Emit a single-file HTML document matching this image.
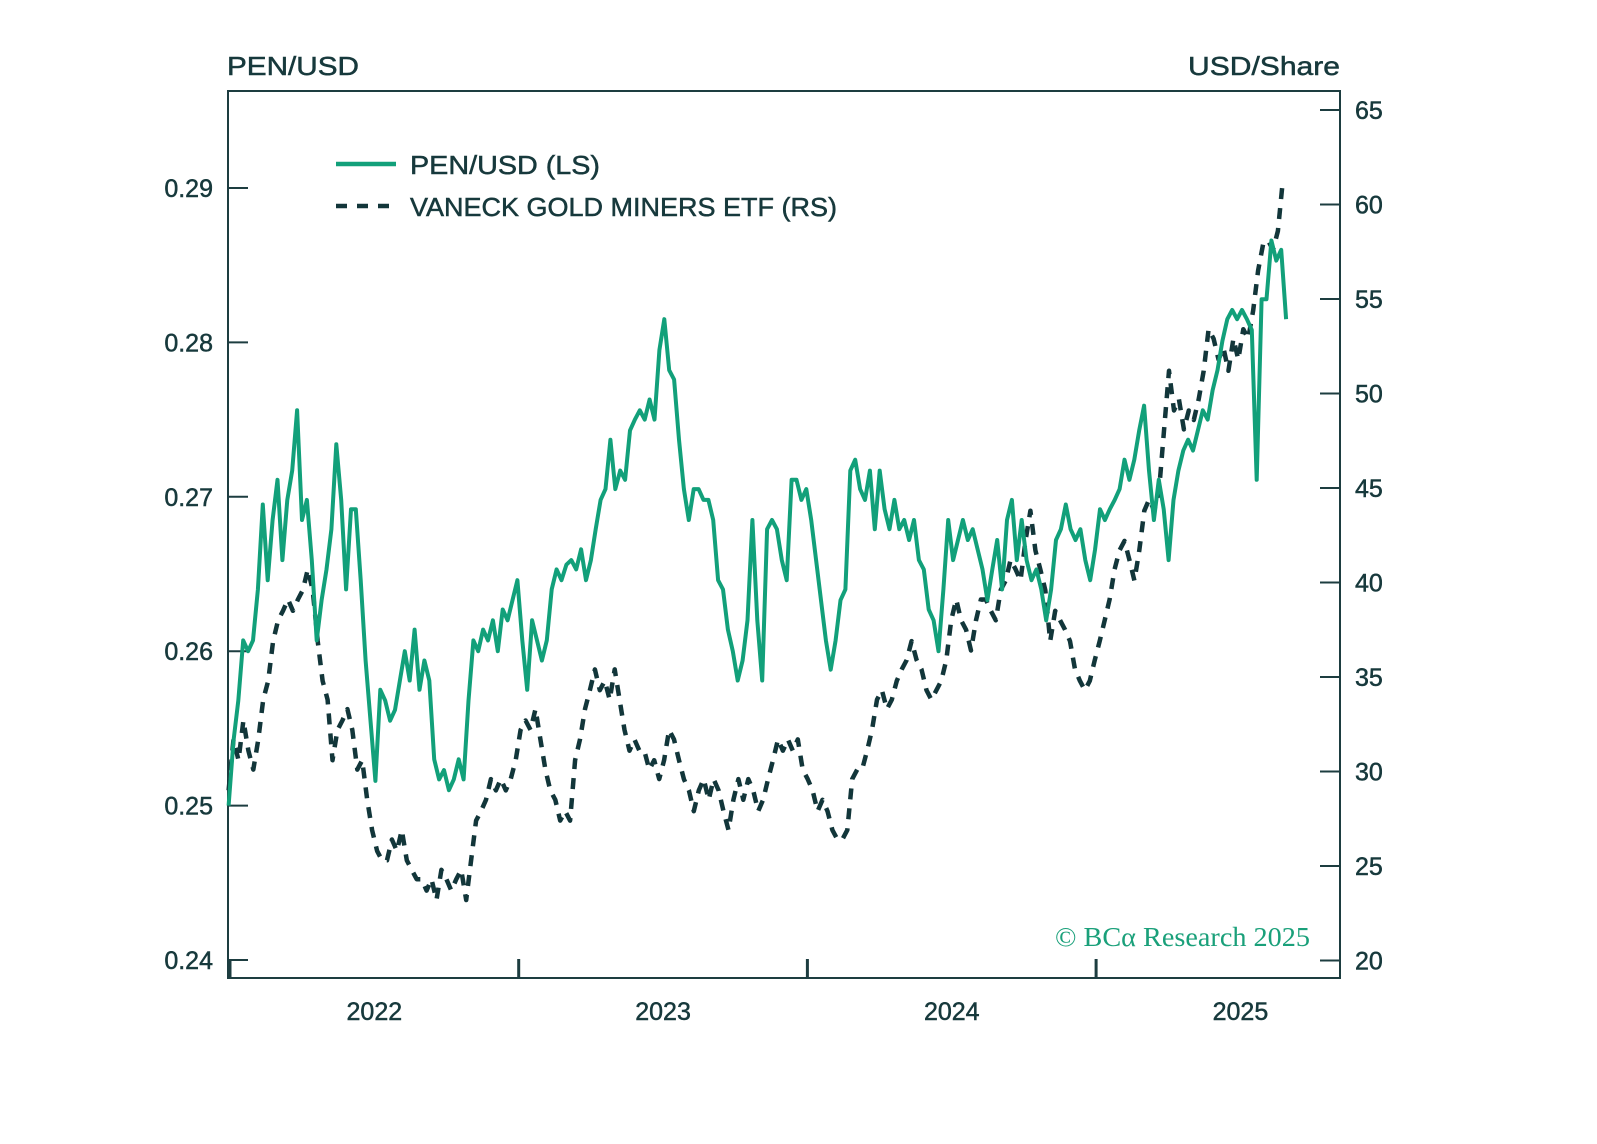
<!DOCTYPE html>
<html><head><meta charset="utf-8"><style>
html,body{margin:0;padding:0;background:#fff;}
svg{display:block;font-family:"Liberation Sans",sans-serif;}
</style></head><body>
<svg id="chart" width="1597" height="1144" viewBox="0 0 1597 1144" xmlns="http://www.w3.org/2000/svg">
<rect x="0" y="0" width="1597" height="1144" fill="#fff"/>
<text x="227" y="75" font-size="26" fill="#17393c" stroke="#17393c" stroke-width="0.5" textLength="132" lengthAdjust="spacingAndGlyphs">PEN/USD</text>
<text x="1340" y="75" font-size="26" fill="#17393c" stroke="#17393c" stroke-width="0.5" text-anchor="end" textLength="152" lengthAdjust="spacingAndGlyphs">USD/Share</text>
<g id="axes"></g>
<g id="series"></g>
<g>
<line x1="336" y1="164" x2="396" y2="164" stroke="#12a07a" stroke-width="4.5"/>
<text x="410" y="174" font-size="26" fill="#17393c" stroke="#17393c" stroke-width="0.5" textLength="190" lengthAdjust="spacingAndGlyphs">PEN/USD (LS)</text>
<line x1="336" y1="206" x2="396" y2="206" stroke="#12363a" stroke-width="4.5" stroke-dasharray="11,10"/>
<text x="410" y="216" font-size="26" fill="#17393c" stroke="#17393c" stroke-width="0.5" textLength="427" lengthAdjust="spacingAndGlyphs">VANECK GOLD MINERS ETF (RS)</text>
</g>
<text x="1055" y="946" font-family="Liberation Serif, serif" font-size="27" fill="#1aa07a" textLength="255" lengthAdjust="spacingAndGlyphs">© BCα Research 2025</text>
</svg>
<script>
const leftTicks=[0.24,0.25,0.26,0.27,0.28,0.29];
const leftTickLabels=["0.24","0.25","0.26","0.27","0.28","0.29"];
const rightTicks=[20,25,30,35,40,45,50,55,60,65];
const yearTicks=[2022,2023,2024,2025];
const yearLabels=["2022","2023","2024","2025"];
const penStart=2021.995, penEnd=2025.658;
const etfStart=2021.995, etfEnd=2025.647;
const penValues=[0.250,0.2542,0.2568,0.2607,0.260,0.2607,0.264,0.2695,0.2646,0.2685,0.2711,0.2659,0.2698,0.2717,0.2756,0.2685,0.2698,0.2659,0.2607,0.2633,0.2653,0.2679,0.2734,0.2698,0.264,0.2692,0.2692,0.2646,0.2594,0.2555,0.2516,0.2575,0.2568,0.2555,0.2562,0.2581,0.26,0.2581,0.2614,0.2575,0.2594,0.2581,0.2530,0.2517,0.2523,0.251,0.2517,0.253,0.2517,0.2568,0.2607,0.26,0.2614,0.2607,0.262,0.26,0.2627,0.262,0.2633,0.2646,0.2607,0.2575,0.262,0.2607,0.2594,0.2607,0.264,0.2653,0.2646,0.2656,0.2659,0.2653,0.2666,0.2646,0.2659,0.2679,0.2698,0.2705,0.2737,0.2705,0.2717,0.2711,0.2743,0.275,0.2756,0.275,0.2763,0.275,0.2795,0.2815,0.2782,0.2776,0.2737,0.2705,0.2685,0.2705,0.2705,0.2698,0.2698,0.2685,0.2646,0.264,0.2614,0.26,0.2581,0.2594,0.262,0.2685,0.262,0.2581,0.2679,0.2685,0.2679,0.2659,0.2646,0.2711,0.2711,0.2698,0.2705,0.2685,0.2659,0.2633,0.2607,0.2588,0.2607,0.2633,0.264,0.2717,0.2724,0.2705,0.2698,0.2717,0.2679,0.2717,0.2692,0.2679,0.2698,0.2679,0.2685,0.2672,0.2685,0.2659,0.2653,0.2627,0.262,0.26,0.264,0.2685,0.2659,0.2672,0.2685,0.2672,0.2679,0.2666,0.2653,0.2633,0.2653,0.2672,0.264,0.2685,0.2698,0.2659,0.2685,0.2659,0.2646,0.2653,0.264,0.262,0.264,0.2672,0.2679,0.2695,0.2679,0.2672,0.2679,0.2659,0.2646,0.2666,0.2692,0.2685,0.2692,0.2698,0.2705,0.2724,0.2711,0.2724,0.2743,0.2759,0.2717,0.2685,0.2711,0.2692,0.2659,0.2698,0.2717,0.273,0.2737,0.273,0.2743,0.2756,0.275,0.2769,0.2782,0.2801,0.2815,0.2821,0.2815,0.2821,0.2815,0.2808,0.2711,0.2828,0.2828,0.2866,0.2853,0.286,0.2815];
const etfValues=[29.0,31.7,30.6,32.7,31.1,30.1,31.7,33.8,34.8,36.9,38.0,38.5,39.1,38.5,39.1,39.6,40.7,39.6,36.9,34.8,33.8,30.6,32.2,32.7,33.3,32.2,30.1,30.6,28.5,26.9,25.8,25.3,25.3,26.4,25.8,26.9,25.3,24.8,24.3,24.3,23.7,24.3,23.2,24.8,24.3,23.7,24.3,24.8,23.2,25.3,27.4,27.9,28.5,29.6,29.0,29.6,29.0,29.6,30.6,32.2,32.7,32.2,33.3,31.7,30.1,29.0,28.5,27.4,27.9,27.4,30.6,31.7,33.3,34.3,35.4,34.3,34.8,33.8,35.4,33.8,32.2,31.1,31.7,31.1,31.1,30.1,30.6,29.6,30.6,32.2,31.7,30.6,29.6,29.0,27.9,29.0,29.6,28.5,29.6,29.0,27.9,26.9,28.5,29.6,28.5,29.6,29.0,27.9,28.5,29.6,30.6,31.7,31.1,31.7,31.1,31.7,30.1,29.6,29.0,27.9,28.5,27.9,26.9,26.4,26.4,26.9,29.6,30.1,30.1,31.1,32.2,33.8,34.3,33.3,33.8,34.8,35.4,35.9,36.9,35.9,35.4,34.3,33.8,34.3,34.8,35.9,38.0,39.1,38.0,37.5,36.4,38.0,39.1,39.1,38.5,38.0,39.6,40.1,41.2,40.7,40.1,42.2,43.8,41.7,40.7,39.6,36.9,38.5,38.0,37.5,36.9,35.4,34.8,34.3,34.8,35.9,36.9,38.0,39.1,40.7,41.7,42.2,41.2,40.1,41.7,43.8,44.4,43.8,44.9,48.1,51.2,49.1,49.7,48.1,49.1,48.6,49.7,51.2,53.4,52.9,51.8,52.4,51.2,52.9,51.8,53.4,52.9,54.4,56.5,57.9,58.1,57.6,58.6,61.3];

const NS="http://www.w3.org/2000/svg";
const L=228,R=1340,T=91,B=978;
function xScale(yr){return 230+(yr-2022)*288.7;}
function yLeft(v){return 188+(0.29-v)*15440;}
function yRight(v){return 110+(65-v)*18.9;}
const axes=document.getElementById('axes');
const series=document.getElementById('series');
function mk(tag,attrs,parent){const e=document.createElementNS(NS,tag);for(const k in attrs)e.setAttribute(k,attrs[k]);parent.appendChild(e);return e;}
const frame=mk('rect',{x:L,y:T,width:R-L,height:B-T,fill:'none',stroke:'#1d3d40','stroke-width':2},axes);


leftTicks.forEach((v,i)=>{
  const y=yLeft(v);
  const t=mk('line',{x1:L,x2:L+20,y1:y,y2:y,stroke:'#1d3d40','stroke-width':2},axes);
  
  
  const lb=mk('text',{x:213,y:y+9,'font-size':25,fill:'#17393c',stroke:'#17393c','stroke-width':0.5,'text-anchor':'end'},axes);
  lb.textContent=leftTickLabels[i];
  
  
});
rightTicks.forEach(v=>{
  const y=yRight(v);
  const t=mk('line',{x1:R-20,x2:R,y1:y,y2:y,stroke:'#1d3d40','stroke-width':2},axes);
  
  
  const lb=mk('text',{x:1355,y:y+9,'font-size':25,fill:'#17393c',stroke:'#17393c','stroke-width':0.5},axes);
  lb.textContent=String(v);
  
  
});
yearTicks.forEach((yr,i)=>{
  const x=xScale(yr);
  const t=mk('line',{x1:x,x2:x,y1:B,y2:B-19,stroke:'#1d3d40','stroke-width':3},axes);
  
  
  const lb=mk('text',{x:xScale(yr+0.5),y:1020,'font-size':25,fill:'#17393c',stroke:'#17393c','stroke-width':0.5,'text-anchor':'middle'},axes);
  lb.textContent=yearLabels[i];
  
  
});
function pathFor(vals,s,e,ys){
  const n=vals.length;
  return vals.map((v,i)=>(i?'L':'M')+xScale(s+(e-s)*i/(n-1)).toFixed(1)+','+ys(v).toFixed(1)).join(' ');
}
const etf=mk('path',{d:pathFor(etfValues,etfStart,etfEnd,yRight),fill:'none',stroke:'#12363a','stroke-width':4.5,'stroke-dasharray':'11,9','stroke-linejoin':'round'},series);


const pen=mk('path',{d:pathFor(penValues,penStart,penEnd,yLeft),fill:'none',stroke:'#12a07a','stroke-width':4,'stroke-linejoin':'round'},series);


</script>
</body></html>
